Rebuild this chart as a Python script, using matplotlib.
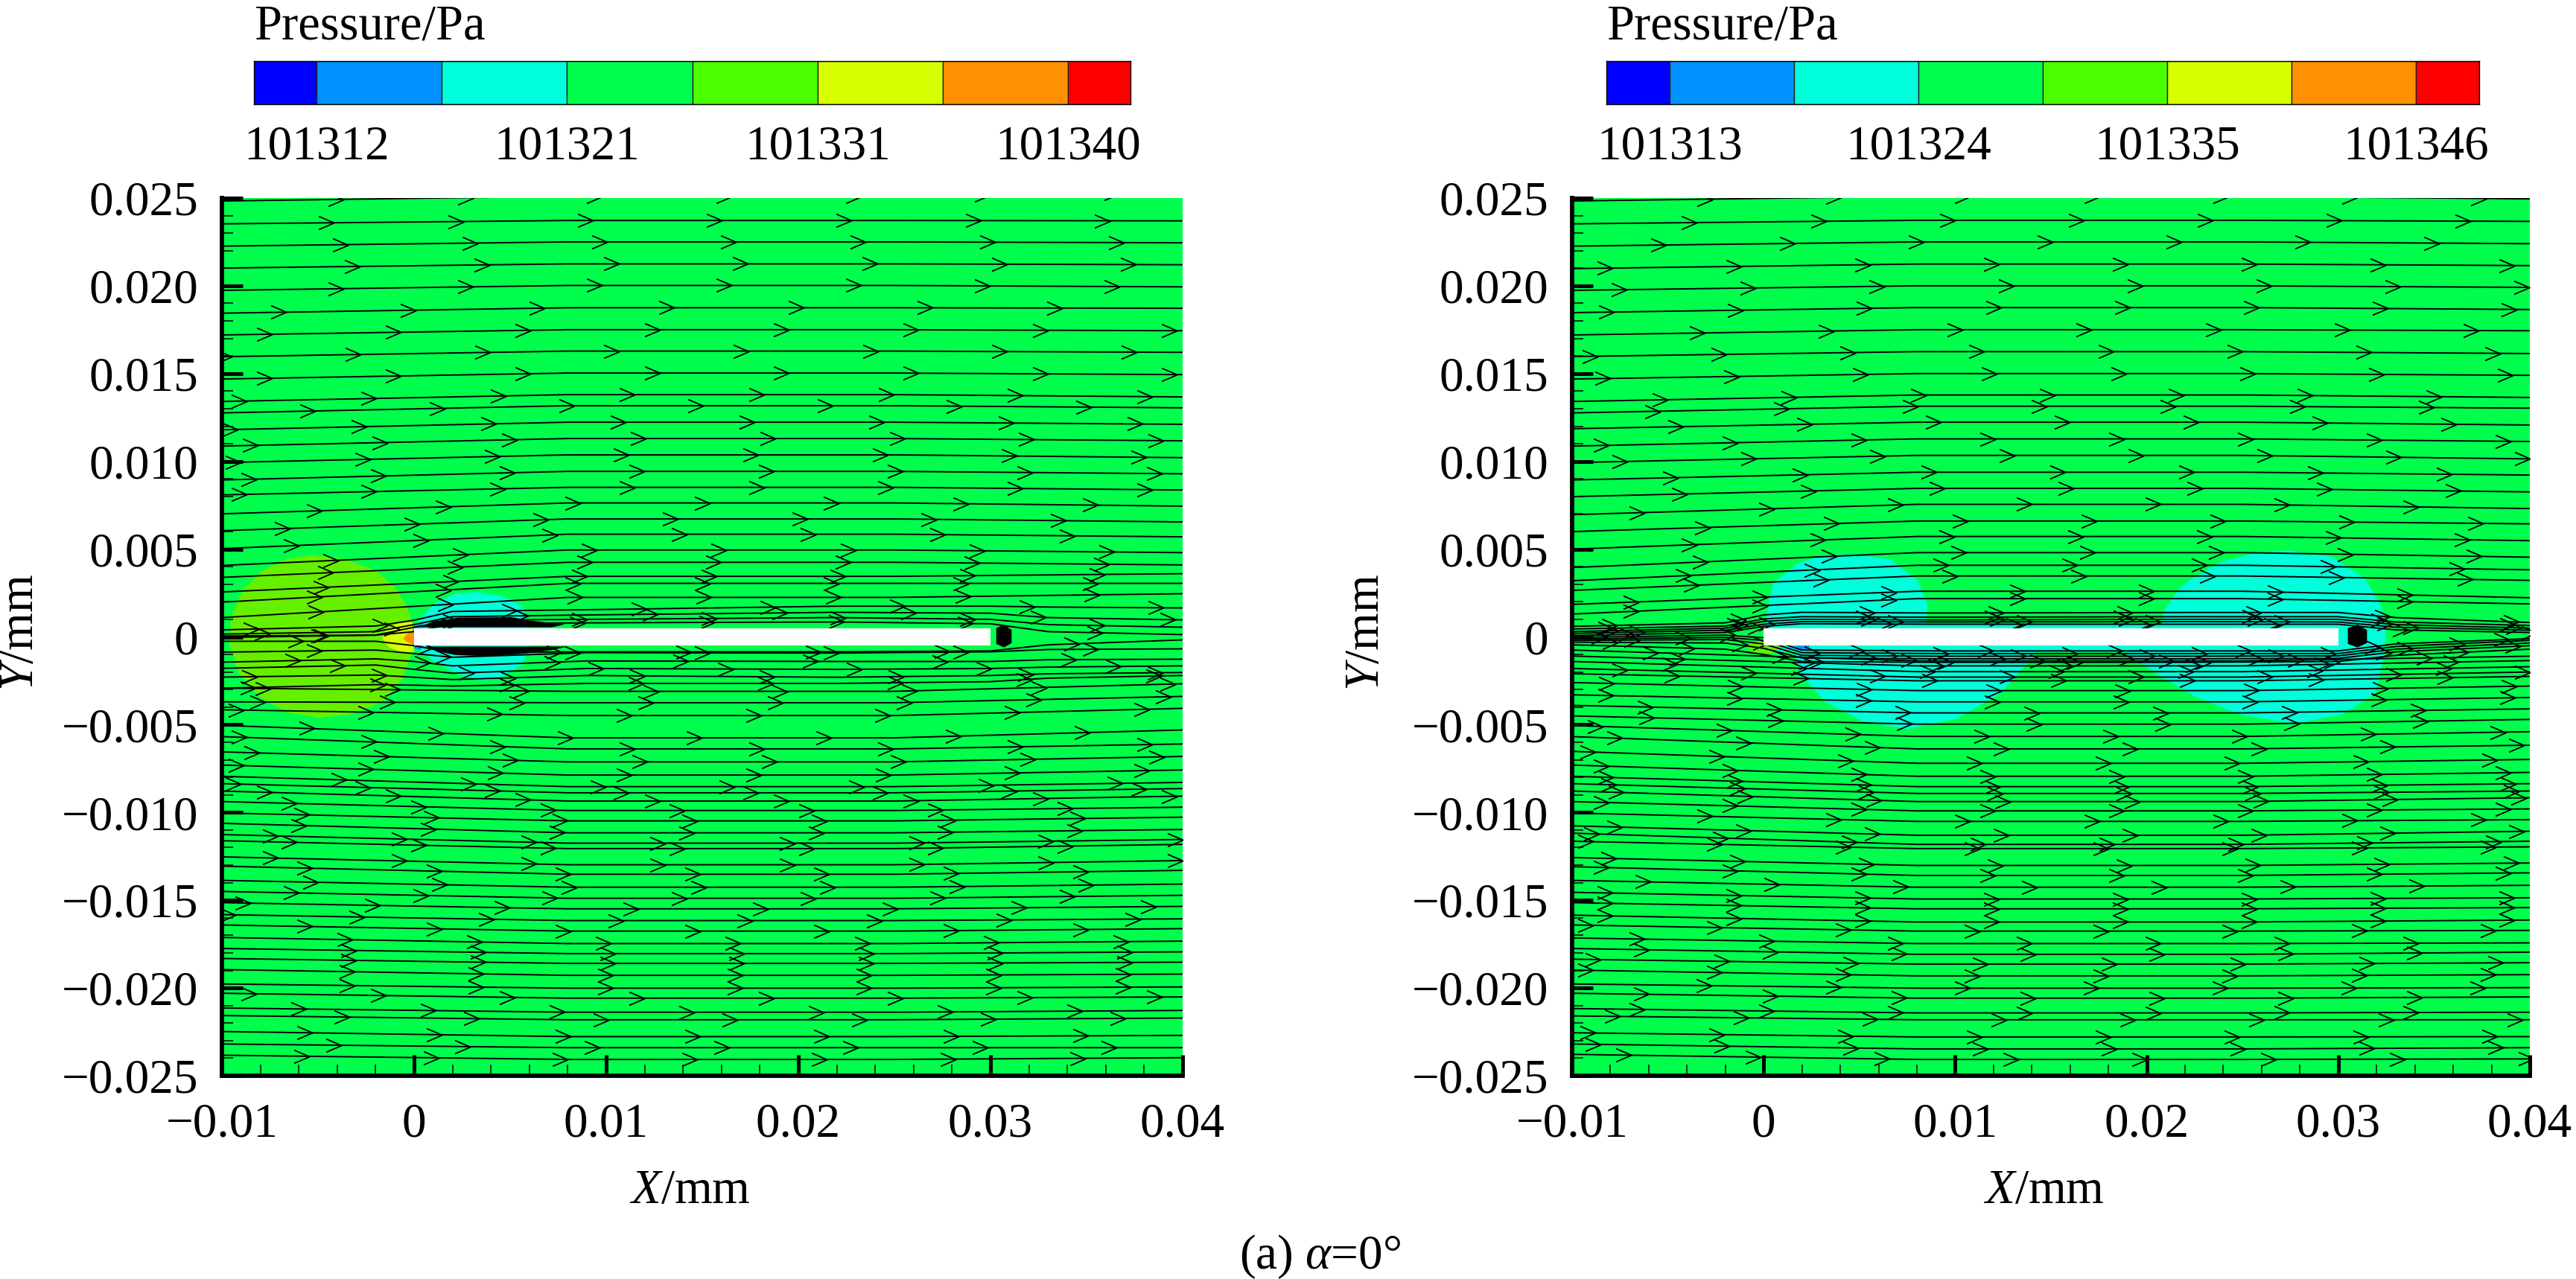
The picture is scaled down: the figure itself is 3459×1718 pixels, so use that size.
import matplotlib
matplotlib.use('Agg')
import matplotlib.pyplot as plt
import numpy as np
from matplotlib.path import Path
from matplotlib.ticker import FixedLocator, FixedFormatter, MultipleLocator

plt.rcParams['font.family'] = ['Liberation Serif', 'DejaVu Serif']
plt.rcParams['mathtext.fontset'] = 'custom'
plt.rcParams['mathtext.rm'] = 'Liberation Serif'
plt.rcParams['mathtext.it'] = 'Liberation Serif:italic'

# all x / y values below are in 1e-3 mm
x_ticks = [-10, 0, 10, 20, 30, 40]
x_tick_labels = ['\u22120.01', '0', '0.01', '0.02', '0.03', '0.04']
y_ticks = [25, 20, 15, 10, 5, 0, -5, -10, -15, -20, -25]
y_tick_labels = ['0.025', '0.020', '0.015', '0.010', '0.005', '0',
                 '\u22120.005', '\u22120.010', '\u22120.015', '\u22120.020', '\u22120.025']

bar_colors = ['#0000ff', '#0090ff', '#00ffdb', '#00ff4c', '#4cff00', '#d8ff00', '#ff9000', '#ff0000']
left_levels = [101309.65, 101312, 101316.7, 101321.4, 101326.1, 101330.8, 101335.5, 101340.2, 101342.55]
left_level_ticks = [101312, 101321.4, 101330.8, 101340.2]
left_level_labels = ['101312', '101321', '101331', '101340']
right_levels = [101310.2, 101313, 101318.5, 101324, 101329.5, 101335, 101340.5, 101346, 101348.8]
right_level_ticks = [101313, 101324, 101335, 101346]
right_level_labels = ['101313', '101324', '101335', '101346']

plate_x = [0, 30]
plate_y = [-0.5, 0.5]

far_x = [-10, 8, 25, 40]
near_x = [-10, -2, 0, 2, 9, 22, 30, 33, 40]

# streamlines of the left panel: y at the inlet, in the middle and at the outlet
left_in = [24.83, 23.53, 22.26, 21.01, 19.74, 18.44, 17.2, 15.96, 14.69, 13.41, 12.76, 11.8,
           10.87, 9.93, 8.94, 8.09, 7.01, 6.05, 5.03, 4.07, 3.39, 2.56, 1.98, 1.1,
           -2.92, -3.7, -4.15, -5.04, -5.68,
           -6.55, -7.3, -7.94, -8.36, -8.78, -9.38, -10.03, -10.62, -11.26, -11.61, -12.53, -13.06,
           -13.87, -14.5, -15.14, -15.82, -16.41, -17.12, -17.75, -18.32, -18.95, -19.77, -20.3,
           -21.14, -21.57, -22.48, -23.19, -23.83]
left_mid = [25.1, 23.72, 22.5, 21.25, 20.02, 18.75, 17.5, 16.28, 15.03, 13.8, 13.17, 12.23,
            11.3, 10.37, 9.43, 8.52, 7.63, 6.72, 5.85, 4.95, 4.25, 3.45, 3.05, 2.25,
            -3.1, -3.75, -4.48, -5.75, -6.38,
            -7.12, -7.87, -8.53, -8.88, -9.35, -9.89, -10.48, -11.16, -11.75, -12.06, -12.98, -13.52,
            -14.26, -14.89, -15.49, -16.16, -16.76, -17.47, -18.04, -18.6, -19.28, -20.01, -20.58,
            -21.38, -21.81, -22.77, -23.4, -24.07]
left_out = [25.3, 23.7, 22.45, 21.2, 19.94, 18.72, 17.44, 16.21, 14.94, 13.67, 13.05, 12.11,
            11.17, 10.21, 9.29, 8.37, 7.45, 6.55, 5.7, 4.8, 4.1, 3.6, 3.05, 2.46,
            -2.67, -3.39, -4.07, -5.3, -6.1,
            -6.81, -7.58, -8.29, -8.64, -9.07, -9.7, -10.27, -10.97, -11.54, -11.82, -12.74, -13.3,
            -14.08, -14.72, -15.35, -16.06, -16.62, -17.33, -17.94, -18.53, -19.21, -19.94, -20.51,
            -21.28, -21.71, -22.7, -23.4, -23.97]
left_first_arrow = [-4.07, -4.56, -3.82, -3.2, -4.07, -7.05, -7.8, -9.9, -7.8, -9.09, -5.53, -9.58,
                    -8.51, -9.4, -8.6, -9.1, -5.2, -6.86, -6.4, -4.34, -4.6, -4.85, -5.2, -5.1,
                    -7.87, -8.13, -9.26, -5.6, -9.1,
                    -8.45, -9.25, -3.9, -9.4, -7.8, -6.5, -5.85, -6, -7.5, -6.5, -7.5, -5.7,
                    -5.4, -6.4, -8.9, -9.7, -5.7, -3.6, -3.4, -3.4, -3.5, -3.5, -8.6,
                    -6, -3.75, -5.7, -4.2, -5.85]
left_near = [
    [0.4, 0.62, 0.95, 1.45, 1.55, 1.75, 1.75, 1.7, 1.65],
    [0.16, 0.3, 0.7, 1.15, 1.25, 1.4, 1.35, 1.1, 0.97],
    [-0.03, 0.1, 0.55, 0.95, 1.0, 1.1, 1.0, 0.7, 0.55],
    [0.05, 0.1, 0.3, 0.75, 0.8, 0.85, 0.75, 0.3, 0.13],
    [-0.25, -0.25, -0.5, -0.9, -0.85, -0.85, -0.8, -0.45, -0.17],
    [-0.87, -0.75, -0.95, -1.16, -0.9, -0.92, -0.85, -0.72, -0.68],
    [-1.44, -1.25, -1.4, -1.65, -1.37, -1.4, -1.4, -1.3, -1.27],
    [-1.79, -1.6, -1.85, -2.07, -1.8, -1.85, -1.8, -1.72, -1.65],
    [-2.29, -2.17, -2.3, -2.43, -2.2, -2.3, -2.2, -2.1, -2.03],
    [-2.92, -2.72, -2.75, -2.8, -2.65, -2.65, -2.55, -2.35, -2.2],
]
left_near_first_arrow = [-8.5, -7.9, -4.85, -4.96, -6.16, -5.2, -6.3, -4, -8.56, -8.63]

# streamlines of the right panel
right_in = [24.83, 23.53, 22.26, 20.98, 19.74, 18.47, 17.2, 15.97, 14.69, 13.41, 12.76, 11.86,
            10.87, 9.93, 8.94, 7.99, 6.96, 6.0, 5.0, 3.95, 3.2, 2.65, 1.85, 1.3,
            -0.75, -1.09, -1.4, -1.8, -2.1, -2.6, -3.3, -3.9, -4.5, -5.05,
            -5.68, -6.52, -7.3, -7.94, -8.36, -8.78, -9.38, -10.03, -10.76, -11.18, -11.64, -12.57, -13.09,
            -13.87, -14.55, -15.14, -15.85, -16.41, -17.15, -17.75, -18.36, -18.98, -19.77, -20.3,
            -21.17, -21.59, -22.55, -23.19, -23.78]
right_mid = [25.1, 23.73, 22.5, 21.24, 20.0, 18.76, 17.5, 16.25, 15.0, 13.78, 13.14, 12.23,
             11.28, 10.34, 9.38, 8.46, 7.55, 6.6, 5.72, 4.8, 4.08, 3.47, 2.6, 2.18,
             -1.37, -1.65, -1.98, -2.29, -2.5, -3.06, -3.7, -4.33, -4.97, -5.67,
             -6.38, -7.2, -7.94, -8.53, -8.92, -9.38, -9.91, -10.51, -11.3, -11.82, -12.06, -13.02, -13.59,
             -14.26, -14.93, -15.49, -16.24, -16.76, -17.47, -18.08, -18.64, -19.31, -20.01, -20.58,
             -21.42, -21.81, -22.79, -23.47, -24.07]
right_out = [24.95, 23.67, 22.4, 21.15, 19.91, 18.65, 17.44, 16.14, 14.9, 13.64, 13.03, 12.07,
             11.13, 10.14, 9.22, 8.26, 7.31, 6.44, 5.48, 4.54, 3.82, 3.22, 2.23, 1.88,
             -1.1, -1.35, -1.7, -2.0, -2.25, -2.8, -3.45, -4.1, -4.7, -5.4,
             -6.17, -6.98, -7.72, -8.36, -8.78, -9.16, -9.8, -10.41, -11.07, -11.64, -11.96, -12.88, -13.44,
             -14.15, -14.86, -15.42, -16.13, -16.72, -17.43, -17.96, -18.56, -19.24, -19.98, -20.51,
             -21.38, -21.81, -22.77, -23.4, -24.04]
right_first_arrow = [-3.07, -3.88, -5.5, -8.3, -7.54, -8.2, -3.46, -9.06, -8.4, -5.4, -5.8, -4.6,
                     -8.5, -7.5, -4.85, -4.4, -6.6, -3.2, -3.9, -3.3, -4.2, -3.76, -6.93, -6.93,
                     -5.9, -4.5, -4.9, -7.5, -4.8, -8.2, -8.26, -6.2, -6.1, -8.8,
                     -7.8, -9.2, -8.5, -8.25, -8.1, -7.7, -8.5, -3.07, -7.8, -9, -9.3, -8.1, -8.5,
                     -6.3, -8.3, -8.3, -8.3, -9.3, -6.6, -6.4, -8.9, -9.3, -3.1, -6.4,
                     -6.6, -7.9, -9.2, -8.9, -7.3]
right_near = [
    [0.6, 0.8, 1.25, 1.4, 1.36, 1.39, 1.39, 1.1, 0.82],
    [0.45, 0.62, 1.02, 1.15, 1.12, 1.15, 1.15, 0.85, 0.65],
    [0.3, 0.5, 0.88, 1.0, 0.97, 1.0, 1.0, 0.7, 0.5],
    [0.2, 0.38, 0.72, 0.87, 0.85, 0.87, 0.85, 0.55, 0.38],
    [0.08, 0.25, 0.6, 0.75, 0.72, 0.72, 0.72, 0.4, 0.25],
    [-0.03, 0.1, -0.05, -0.75, -0.8, -0.8, -0.8, -0.4, -0.1],
    [-0.12, -0.03, -0.2, -0.9, -0.95, -0.95, -0.95, -0.55, -0.2],
    [-0.2, -0.15, -0.4, -1.05, -1.1, -1.1, -1.08, -0.7, -0.35],
    [-0.3, -0.35, -0.65, -1.2, -1.25, -1.25, -1.22, -0.85, -0.5],
    [-0.45, -0.7, -1.0, -1.4, -1.45, -1.45, -1.4, -1.05, -0.7],
]
right_near_first_arrow = [-8.07, -8.26, -7.98, -6.6, -7.15, -8.6, -4.2, -6.9, -8, -4]

# pressure regions: outline vertices and fill colour index into bar_colors
left_high_x = [-5.28, -3.56, -2.0, -0.96, -0.36, -0.1, -0.1, -0.62, -1.65, -3.21, -4.94, -6.67, -8.05, -9.09, -9.61, -9.52, -8.92, -7.88, -6.67]
left_high_y = [4.66, 4.42, 3.79, 2.8, 1.67, 0.82, -0.87, -2.42, -3.7, -4.4, -4.61, -4.26, -3.41, -2.14, -0.45, 1.1, 2.66, 3.79, 4.42]
left_yellow_x = [-0.1, -0.79, -1.48, -1.65, -1.31, -0.62, 0]
left_yellow_y = [0.85, 0.82, 0.4, -0.1, -0.59, -0.87, -0.87]
left_orange_x = [0, -0.35, -0.58, -0.35, 0]
left_orange_y = [0.4, 0.19, -0.1, -0.31, -0.45]
left_low_x = [3.19, 4.75, 5.61, 5.96, 6.05, 5.61, 4.58, 3.71, 2.33, 1.12, 0.25, 0, 0, 0.25, 1.12, 2.15]
left_low_y = [2.56, 2.3, 1.74, 0.82, -0.59, -1.58, -2.28, -2.5, -2.14, -1.44, -0.73, -0.45, 0.4, 0.96, 1.95, 2.45]
left_blue_top_x = [0, 0.4, 0.45, 0]
left_blue_top_y = [0.6, 0.75, 0.5, 0.5]
left_blue_bot_x = [0, 0.45, 0.35, 0]
left_blue_bot_y = [-0.5, -0.5, -0.75, -0.65]
left_dense_top_x = [0.35, 0.94, 2.33, 5.09, 6.13, 7.86, 7.17, 0.35]
left_dense_top_y = [0.55, 0.87, 1.1, 1.12, 0.92, 0.71, 0.55, 0.55]
left_dense_bot_x = [0.6, 8.0, 7.17, 5.78, 3.71, 2.15, 1.12]
left_dense_bot_y = [-0.55, -0.55, -0.75, -0.95, -1.1, -1.03, -0.8]
left_tail_x = [30.3, 30.7, 31.1, 31.1, 30.7, 30.3]
left_tail_y = [0.5, 0.7, 0.4, -0.35, -0.6, -0.4]

right_low1_x = [4.63, 6.62, 8.04, 8.56, 8.47, 14.53, 14.53, 13.73, 12.31, 10.03, 7.47, 5.2, 3.21, 1.93, 1.64, 0.93, 0.08, 0.22, 0.51, 1.79, 3.07]
right_low1_y = [4.71, 4.42, 3.22, 1.81, 0.54, 0.47, -0.45, -1.58, -3.27, -4.68, -5.25, -4.82, -3.7, -2.14, -1.01, -0.02, 0.54, 1.81, 3.08, 4.21, 4.64]
right_low2_x = [27.38, 29.66, 31.36, 32.22, 32.5, 32.36, 31.93, 30.23, 27.67, 24.82, 22.55, 20.56, 18.85, 18.28, 20.84, 20.84, 21.84, 23.69, 25.68]
right_low2_y = [4.92, 4.57, 3.37, 1.81, 0.4, -1.29, -3.27, -4.4, -4.97, -4.4, -3.41, -2.14, -0.87, -0.45, 0.54, 1.39, 2.94, 4.21, 4.78]
right_rim_x = [0.3, 30.5, 30.5, 0.3]
right_rim_y = [0.7, 0.7, -0.85, -0.85]
right_high_x = [0.22, -0.91, -0.63, 0.36, 0.93]
right_high_y = [-0.02, -0.45, -0.87, -0.94, -0.59]
right_yellow_x = [0.05, 0.9, 1.2, 0.3]
right_yellow_y = [0.4, -0.5, -0.6, 0.05]
right_blue_x = [1.6, 2.4, 2.3, 1.7]
right_blue_y = [-0.5, -0.5, -0.8, -0.75]
right_tail_x = [30.5, 31.0, 31.5, 31.5, 31.0, 30.5]
right_tail_y = [0.5, 0.7, 0.4, -0.35, -0.6, -0.4]

field_green = '#00ff4c'
high_green = '#66f000'
chevron = Path([(-1, 0.85), (1, 0), (-1, -0.85)], [Path.MOVETO, Path.LINETO, Path.LINETO])
arrow_spacing = 6.73
W, H = 3459, 1718


def axes_box(x0, x1, y0, y1):
    # pixel box -> figure fractions
    return [x0 / W, 1 - y1 / H, (x1 - x0) / W, (y1 - y0) / H]


def draw_streamline(ax, xs, ys, first):
    ax.plot(xs, ys, color='black', lw=1.4, zorder=2)
    ax_x = np.arange(first, 40, arrow_spacing)
    ax.plot(ax_x, np.interp(ax_x, xs, ys), ls='none', marker=chevron, ms=15,
            mew=1.3, mfc='none', mec='black', zorder=2.1)


def draw_panel(ax, y_in, y_mid, y_out, first_arrow, near, near_first, regions, dense):
    ax.set_facecolor(field_green)
    for rx, ry, color in regions:
        ax.fill(rx, ry, color=color, lw=0, zorder=1)
    for a, b, c, first in zip(y_in, y_mid, y_out, first_arrow):
        draw_streamline(ax, far_x, [a, b, b, c], first)
    for ys, first in zip(near, near_first):
        draw_streamline(ax, near_x, ys, first)
    ax.fill([plate_x[0], plate_x[1], plate_x[1], plate_x[0]],
            [plate_y[0], plate_y[0], plate_y[1], plate_y[1]], color='white', lw=0, zorder=2.3)
    for rx, ry in dense:
        ax.fill(rx, ry, color='black', lw=0, zorder=2.4)

    ax.set_xlim(-10, 40)
    ax.set_ylim(-25, 25)
    ax.spines['top'].set_visible(False)
    ax.spines['right'].set_visible(False)
    ax.spines['left'].set_linewidth(4.2)
    ax.spines['bottom'].set_linewidth(4.2)
    ax.xaxis.set_major_locator(FixedLocator(x_ticks))
    ax.xaxis.set_major_formatter(FixedFormatter(x_tick_labels))
    ax.yaxis.set_major_locator(FixedLocator(y_ticks))
    ax.yaxis.set_major_formatter(FixedFormatter(y_tick_labels))
    ax.xaxis.set_minor_locator(MultipleLocator(2))
    ax.yaxis.set_minor_locator(MultipleLocator(1))
    ax.tick_params(which='major', direction='in', length=20, width=3.6, labelsize=47, zorder=3)
    ax.tick_params(which='minor', direction='in', length=11, width=1.1, zorder=3)
    ax.tick_params(axis='x', which='major', pad=26)
    ax.tick_params(axis='y', which='major', pad=23)


def draw_bar(box, levels, ticks, labels):
    bar = fig.add_axes(axes_box(*box))
    bar.barh(0, np.diff(levels), left=levels[:-1], height=1, color=bar_colors,
             edgecolor='#222222', linewidth=1)
    bar.set_xlim(levels[0], levels[-1])
    bar.set_ylim(-0.5, 0.5)
    bar.set_yticks([])
    bar.set_xticks(ticks, labels)
    bar.tick_params(axis='x', length=0, pad=20, labelsize=47)
    for side in bar.spines.values():
        side.set_linewidth(1)
    bar.text(0, 1.27, 'Pressure/Pa', transform=bar.transAxes, fontsize=48, ha='left', va='bottom')


fig = plt.figure(figsize=(W / 100, H / 100), dpi=100)

ax_left = fig.add_axes(axes_box(298, 1588, 266, 1445))
draw_panel(ax_left, left_in, left_mid, left_out, left_first_arrow, left_near, left_near_first_arrow,
           [(left_high_x, left_high_y, high_green),
            (left_yellow_x, left_yellow_y, bar_colors[5]),
            (left_orange_x, left_orange_y, bar_colors[6]),
            (left_low_x, left_low_y, bar_colors[2]),
            (left_blue_top_x, left_blue_top_y, bar_colors[1]),
            (left_blue_bot_x, left_blue_bot_y, bar_colors[1])],
           [(left_dense_top_x, left_dense_top_y),
            (left_dense_bot_x, left_dense_bot_y),
            (left_tail_x, left_tail_y)])

ax_right = fig.add_axes(axes_box(2111, 3397, 266, 1445))
draw_panel(ax_right, right_in, right_mid, right_out, right_first_arrow, right_near, right_near_first_arrow,
           [(right_low1_x, right_low1_y, bar_colors[2]),
            (right_low2_x, right_low2_y, bar_colors[2]),
            (right_rim_x, right_rim_y, bar_colors[2]),
            (right_high_x, right_high_y, high_green),
            (right_yellow_x, right_yellow_y, bar_colors[5]),
            (right_blue_x, right_blue_y, bar_colors[1])],
           [(right_tail_x, right_tail_y)])

draw_bar((341, 1518, 82, 140), left_levels, left_level_ticks, left_level_labels)
draw_bar((2157, 3329, 82, 140), right_levels, right_level_ticks, right_level_labels)

fig.text(926 / W, 1 - 1600 / H, r'$\mathit{X}$/mm', fontsize=47, ha='center', va='center')
fig.text(2744 / W, 1 - 1600 / H, r'$\mathit{X}$/mm', fontsize=47, ha='center', va='center')
fig.text(28 / W, 1 - 850 / H, r'$\mathit{Y}$/mm', fontsize=47, ha='center', va='center', rotation=90)
fig.text(1835 / W, 1 - 850 / H, r'$\mathit{Y}$/mm', fontsize=47, ha='center', va='center', rotation=90)
fig.text(1773 / W, 1 - 1688 / H, r'(a) $\mathit{\alpha}$=0°', fontsize=47, ha='center', va='center')

fig.savefig('out.png', dpi=100)
